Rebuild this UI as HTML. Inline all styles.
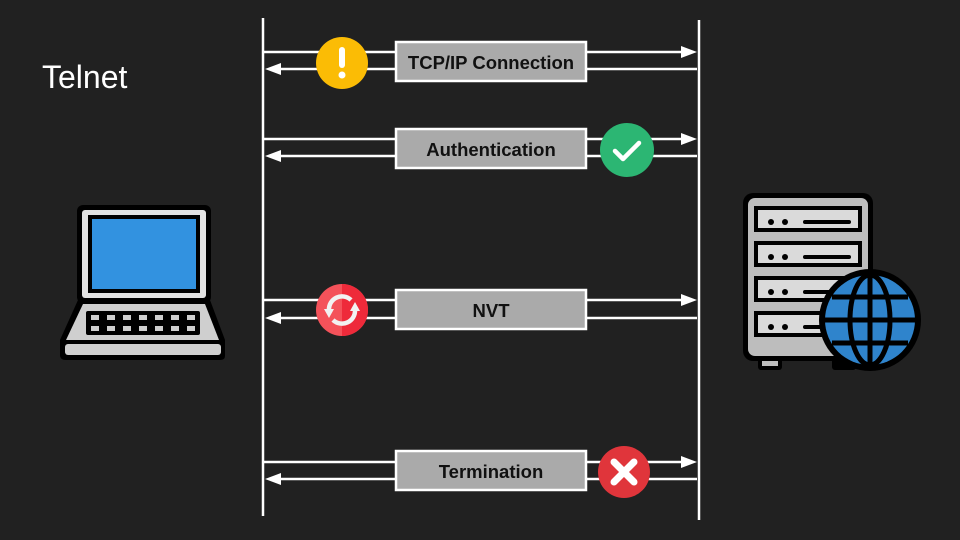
<!DOCTYPE html>
<html><head><meta charset="utf-8"><style>
html,body{margin:0;padding:0;background:#212121;}
svg{display:block}
text{font-family:"Liberation Sans",Arial,sans-serif}
</style></head><body>
<svg width="960" height="540" viewBox="0 0 960 540" xmlns="http://www.w3.org/2000/svg">
<rect width="960" height="540" fill="#212121"/>
<text x="42" y="88" fill="#fff" font-size="32">Telnet</text>
<line x1="263" y1="18" x2="263" y2="516" stroke="#fff" stroke-width="2.5"/>
<line x1="699" y1="20" x2="699" y2="520" stroke="#fff" stroke-width="2.5"/>
<g stroke="#fff" stroke-width="2.5" fill="#fff">
<line x1="264" y1="52" x2="682" y2="52"/><polygon points="681,46 697,52 681,58" stroke="none"/>
<line x1="280" y1="69" x2="697" y2="69"/><polygon points="281,63 265,69 281,75" stroke="none"/>
<line x1="264" y1="139" x2="682" y2="139"/><polygon points="681,133 697,139 681,145" stroke="none"/>
<line x1="280" y1="156" x2="697" y2="156"/><polygon points="281,150 265,156 281,162" stroke="none"/>
<line x1="264" y1="300" x2="682" y2="300"/><polygon points="681,294 697,300 681,306" stroke="none"/>
<line x1="280" y1="318" x2="697" y2="318"/><polygon points="281,312 265,318 281,324" stroke="none"/>
<line x1="264" y1="462" x2="682" y2="462"/><polygon points="681,456 697,462 681,468" stroke="none"/>
<line x1="280" y1="479" x2="697" y2="479"/><polygon points="281,473 265,479 281,485" stroke="none"/>
</g>
<g fill="#aaaaaa" stroke="#fff" stroke-width="2.5">
<rect x="396" y="42" width="190" height="39"/>
<rect x="396" y="129" width="190" height="39"/>
<rect x="396" y="290" width="190" height="39"/>
<rect x="396" y="451" width="190" height="39"/>
</g>
<g font-size="18.5" font-weight="bold" fill="#111" text-anchor="middle">
<text x="491" y="69">TCP/IP Connection</text>
<text x="491" y="156">Authentication</text>
<text x="491" y="317">NVT</text>
<text x="491" y="478">Termination</text>
</g>
<circle cx="342" cy="63" r="26" fill="#fbbc05"/>
<rect x="339" y="47" width="6" height="21" rx="3" fill="#fff"/>
<circle cx="342" cy="75" r="3.5" fill="#fff"/>
<circle cx="627" cy="150" r="27" fill="#2cb673"/>
<polyline points="615,151 623,159 639,143" fill="none" stroke="#fff" stroke-width="4.5" stroke-linecap="round" stroke-linejoin="round"/>
<circle cx="342" cy="310" r="26" fill="#f4525a"/>
<path d="M342 284 A26 26 0 0 1 342 336 Z" fill="#ee2a3a"/>
<g fill="none" stroke="#f2f2f2" stroke-width="4.5">
<path d="M329 310 A13 13 0 0 1 351 300"/>
<path d="M355 310 A13 13 0 0 1 333 320"/>
</g>
<polygon points="324,309 334,309 329,318" fill="#f2f2f2"/>
<polygon points="350,311 360,311 355,302" fill="#f2f2f2"/>
<circle cx="624" cy="472" r="26" fill="#e0353b"/>
<g stroke="#fff" stroke-width="7" stroke-linecap="round">
<line x1="614" y1="462" x2="634" y2="482"/><line x1="634" y1="462" x2="614" y2="482"/>
</g>
<rect x="77" y="205" width="134" height="98" rx="6" fill="#000"/>
<rect x="82" y="210" width="124" height="88" rx="3" fill="#e2e2e2"/>
<rect x="88" y="215" width="112" height="78" fill="#000"/>
<rect x="92" y="219" width="104" height="70" fill="#3292e0"/>
<path d="M78 300 L210 300 L225 340 L225 356 Q225 360 220 360 L66 360 Q60 360 60 355 L60 340 Z" fill="#000"/>
<path d="M83 304 L205 304 L219 340 L66 340 Z" fill="#cfcfcf"/>
<rect x="65" y="344" width="156" height="11" rx="3" fill="#cfcfcf"/>
<rect x="86" y="311" width="114" height="24" rx="2" fill="#000"/>
<g fill="#cfcfcf">
<rect x="91" y="315" width="8" height="5"/><rect x="107" y="315" width="8" height="5"/><rect x="123" y="315" width="8" height="5"/><rect x="139" y="315" width="8" height="5"/><rect x="155" y="315" width="8" height="5"/><rect x="171" y="315" width="8" height="5"/><rect x="187" y="315" width="8" height="5"/>
<rect x="91" y="326" width="8" height="5"/><rect x="107" y="326" width="8" height="5"/><rect x="123" y="326" width="8" height="5"/><rect x="139" y="326" width="8" height="5"/><rect x="155" y="326" width="8" height="5"/><rect x="171" y="326" width="8" height="5"/><rect x="187" y="326" width="8" height="5"/>
</g>
<rect x="758" y="352" width="24" height="18" rx="3" fill="#000"/>
<rect x="832" y="352" width="24" height="18" rx="3" fill="#000"/>
<rect x="762" y="352" width="16" height="14" fill="#bdbdbd"/>
<rect x="743" y="193" width="130" height="168" rx="10" fill="#000"/>
<rect x="748" y="198" width="120" height="158" rx="7" fill="#bdbdbd"/>
<g fill="#000">
<rect x="754" y="206" width="108" height="26"/><rect x="754" y="241" width="108" height="26"/>
<rect x="754" y="276" width="108" height="26"/><rect x="754" y="311" width="108" height="26"/>
</g>
<g fill="#dadada">
<rect x="758" y="210" width="100" height="18"/><rect x="758" y="245" width="100" height="18"/>
<rect x="758" y="280" width="100" height="18"/><rect x="758" y="315" width="100" height="18"/>
</g>
<g fill="#000">
<circle cx="771" cy="222" r="3"/><circle cx="785" cy="222" r="3"/><rect x="803" y="220" width="48" height="4" rx="2"/>
<circle cx="771" cy="257" r="3"/><circle cx="785" cy="257" r="3"/><rect x="803" y="255" width="48" height="4" rx="2"/>
<circle cx="771" cy="292" r="3"/><circle cx="785" cy="292" r="3"/><rect x="803" y="290" width="48" height="4" rx="2"/>
<circle cx="771" cy="327" r="3"/><circle cx="785" cy="327" r="3"/><rect x="803" y="325" width="48" height="4" rx="2"/>
</g>
<circle cx="870" cy="320" r="51" fill="#000"/>
<circle cx="870" cy="320" r="45" fill="#2f84cc"/>
<g fill="none" stroke="#000" stroke-width="5">
<ellipse cx="870" cy="320" rx="20" ry="45"/>
<line x1="870" y1="275" x2="870" y2="365"/>
<line x1="825" y1="320" x2="915" y2="320"/>
<line x1="832" y1="297" x2="908" y2="297"/>
<line x1="832" y1="343" x2="908" y2="343"/>
</g>
</svg>
</body></html>
